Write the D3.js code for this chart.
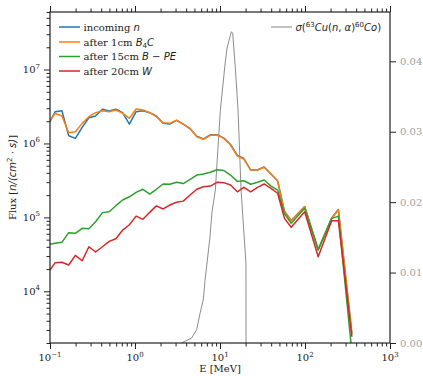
<!DOCTYPE html>
<html>
<head>
<meta charset="utf-8">
<script src="https://cdn.jsdelivr.net/npm/d3@7"></script>
<style>
  body { margin: 0; background: #fff; }
  text { font-family: "DejaVu Serif", serif; }
  .m { font-family: "DejaVu Sans", sans-serif; font-style: italic; }
  .mu { font-family: "DejaVu Sans", sans-serif; font-style: normal; }
</style>
</head>
<body>
<svg id="chart" width="423" height="376"></svg>
<script>
// energy grid [MeV]
const energy = [0.1, 0.115, 0.138, 0.166, 0.199, 0.239, 0.287, 0.344, 0.414, 0.497,
  0.596, 0.716, 0.859, 1.03, 1.24, 1.49, 1.78, 2.14, 2.57, 3.08,
  3.70, 4.45, 5.33, 6.40, 7.69, 9.23, 11.1, 13.3, 16.0, 19.1,
  23.0, 27.6, 33.1, 39.8, 47.7, 57.3, 68.8, 99.1, 143, 206, 247, 356];

const incoming = [1.97e6, 2.69e6, 2.77e6, 1.27e6, 1.17e6, 1.65e6, 2.23e6, 2.35e6, 2.90e6, 2.75e6,
  2.90e6, 2.61e6, 1.83e6, 2.69e6, 2.77e6, 2.61e6, 2.35e6, 1.87e6, 1.83e6, 2.05e6,
  1.83e6, 1.58e6, 1.25e6, 1.15e6, 1.31e6, 1.31e6, 1.18e6, 9.68e5, 6.87e5, 6.25e5,
  4.37e5, 4.37e5, 4.80e5, 3.86e5, 3.10e5, 1.21e5, 9.10e4, 1.40e5, 3.70e4, 9.80e4, 1.28e5, 2.64e3];

const afterB4C = [2.03e6, 2.56e6, 2.35e6, 1.40e6, 1.44e6, 1.87e6, 2.30e6, 2.61e6, 2.77e6, 2.69e6,
  2.83e6, 2.56e6, 2.19e6, 2.92e6, 2.83e6, 2.61e6, 2.30e6, 1.91e6, 1.87e6, 2.07e6,
  1.83e6, 1.60e6, 1.23e6, 1.14e6, 1.29e6, 1.30e6, 1.17e6, 9.52e5, 6.76e5, 6.15e5,
  4.37e5, 4.37e5, 4.76e5, 3.86e5, 3.10e5, 1.19e5, 9.02e4, 1.39e5, 3.62e4, 9.71e4, 1.26e5, 2.73e3];

const afterBPE = [4.32e4, 4.46e4, 4.60e4, 6.21e4, 6.08e4, 7.11e4, 7.02e4, 8.74e4, 1.16e5, 1.19e5,
  1.44e5, 1.72e5, 1.90e5, 2.18e5, 2.40e5, 2.07e5, 2.40e5, 2.83e5, 2.81e5, 2.98e5,
  2.87e5, 3.27e5, 3.74e5, 3.86e5, 4.07e5, 4.41e5, 4.30e5, 3.74e5, 3.07e5, 3.13e5,
  2.81e5, 2.98e5, 3.20e5, 2.65e5, 2.34e5, 1.13e5, 8.31e4, 1.33e5, 3.62e4, 9.71e4, 1.04e5, 1.5e3];

const afterW = [1.94e4, 2.44e4, 2.47e4, 2.27e4, 3.07e4, 2.59e4, 4.01e4, 3.40e4, 4.01e4, 4.74e4,
  5.14e4, 6.74e4, 7.96e4, 1.04e5, 9.41e4, 1.17e5, 1.43e5, 1.30e5, 1.47e5, 1.60e5,
  1.66e5, 2.01e5, 2.40e5, 2.60e5, 2.65e5, 2.98e5, 2.95e5, 2.74e5, 2.22e5, 2.55e5,
  2.22e5, 2.55e5, 2.83e5, 2.47e5, 2.12e5, 9.71e4, 7.34e4, 1.19e5, 2.94e4, 9.02e4, 9.02e4, 2.43e3];

// 63Cu(n,a)60Co cross section (right axis)
const sigmaE = [3.5, 4.64, 5.32, 5.82, 6.37, 6.67, 7.63, 8.05, 8.81, 10.1,
  11.4, 12.1, 13.6, 14.1, 15.1, 16.3, 17.7, 20.2, 20.25];
const sigmaVal = [0, 0.0007, 0.0019, 0.0042, 0.0062, 0.0089, 0.0151, 0.0186, 0.0217, 0.0331,
  0.0393, 0.0419, 0.0442, 0.0440, 0.0393, 0.0331, 0.0217, 0.0113, 0];

const xMajor = [0.1, 1, 10, 100, 1000];
const xMajorExp = ["\u22121", "0", "1", "2", "3"];
const yMajor = [1e4, 1e5, 1e6, 1e7];
const yMajorExp = ["4", "5", "6", "7"];
const yRightTicks = [0, 0.01, 0.02, 0.03, 0.04];

const series = [
  {name: "incoming", vals: incoming, color: "#1f77b4"},
  {name: "B4C", vals: afterB4C, color: "#ff7f0e"},
  {name: "BPE", vals: afterBPE, color: "#2ca02c"},
  {name: "W", vals: afterW, color: "#d62728"}
];

const plot = {left: 50, right: 390, top: 12, bottom: 343};

const x = d3.scaleLog().domain([0.1, 1000]).range([plot.left, plot.right]);
const y = d3.scaleLog().domain([2000, 6e7]).range([plot.bottom, plot.top]);
const yR = d3.scaleLinear().domain([0, 0.047]).range([plot.bottom, plot.top]);

const svg = d3.select("#chart");

svg.append("defs").append("clipPath").attr("id", "clip")
  .append("rect").attr("x", plot.left).attr("y", plot.top)
  .attr("width", plot.right - plot.left).attr("height", plot.bottom - plot.top);

const tickCol = "#222";

// minor tick positions straight from the log scales
const xMinor = x.ticks().filter(v => !xMajor.some(m => Math.abs(m - v) / m < 1e-6));
const yMinor = y.ticks().filter(v => !yMajor.some(m => Math.abs(m - v) / m < 1e-6));

function styleAxis(g) {
  g.select(".domain").remove();
  g.selectAll("line").attr("stroke", tickCol).attr("stroke-width", 1);
}

// bottom + top
svg.append("g").attr("transform", "translate(0," + plot.bottom + ")")
  .call(d3.axisBottom(x).tickValues(xMajor).tickSize(6).tickFormat("")).call(styleAxis);
svg.append("g").attr("transform", "translate(0," + plot.bottom + ")")
  .call(d3.axisBottom(x).tickValues(xMinor).tickSize(3.5).tickFormat("")).call(styleAxis);
svg.append("g").attr("transform", "translate(0," + plot.top + ")")
  .call(d3.axisTop(x).tickValues(xMajor).tickSize(6).tickFormat("")).call(styleAxis);
svg.append("g").attr("transform", "translate(0," + plot.top + ")")
  .call(d3.axisTop(x).tickValues(xMinor).tickSize(3.5).tickFormat("")).call(styleAxis);

// left
svg.append("g").attr("transform", "translate(" + plot.left + ",0)")
  .call(d3.axisLeft(y).tickValues(yMajor).tickSize(6).tickFormat("")).call(styleAxis);
svg.append("g").attr("transform", "translate(" + plot.left + ",0)")
  .call(d3.axisLeft(y).tickValues(yMinor).tickSize(3.5).tickFormat("")).call(styleAxis);

// right
svg.append("g").attr("transform", "translate(" + plot.right + ",0)")
  .call(d3.axisRight(yR).tickValues(yRightTicks).tickSize(6).tickFormat("")).call(styleAxis);

// tick labels
xMajor.forEach((v, i) => {
  let t = svg.append("text").attr("x", x(v)).attr("y", 361)
    .attr("text-anchor", "middle").attr("font-size", 10).attr("fill", tickCol);
  t.append("tspan").text("10");
  t.append("tspan").attr("dy", -4.5).attr("font-size", 7).text(xMajorExp[i]);
});

yMajor.forEach((v, i) => {
  let t = svg.append("text").attr("x", 40).attr("y", y(v) + 3.5)
    .attr("text-anchor", "end").attr("font-size", 10).attr("fill", tickCol);
  t.append("tspan").text("10");
  t.append("tspan").attr("dy", -4.5).attr("font-size", 7).text(yMajorExp[i]);
});

yRightTicks.forEach(v => {
  svg.append("text").attr("x", 400).attr("y", yR(v) + 3.5)
    .attr("font-size", 10).attr("fill", "#a0a0a0").text(v.toFixed(2));
});

// axis labels
svg.append("text").attr("x", (plot.left + plot.right) / 2).attr("y", 372)
  .attr("text-anchor", "middle").attr("font-size", 10).attr("fill", tickCol).text("E [MeV]");

let yl = svg.append("text").attr("transform", "translate(16," + ((plot.top + plot.bottom) / 2) + ") rotate(-90)")
  .attr("text-anchor", "middle").attr("font-size", 10).attr("fill", tickCol);
yl.append("tspan").text("Flux [");
yl.append("tspan").attr("class", "m").text("n/(cm");
yl.append("tspan").attr("class", "mu").attr("dy", -4).attr("font-size", 7).text("2");
yl.append("tspan").attr("class", "mu").attr("dy", 4).text(" \u00b7 ");
yl.append("tspan").attr("class", "m").text("s)");
yl.append("tspan").text("]");

// cross section curve
const lineR = d3.line().x((d, i) => x(sigmaE[i])).y(d => yR(d));
svg.append("path").datum(sigmaVal)
  .attr("clip-path", "url(#clip)")
  .attr("fill", "none").attr("stroke", "#8c8c8c").attr("stroke-width", 1)
  .attr("d", lineR);

// flux curves
const line = d3.line().x((d, i) => x(energy[i])).y(d => y(d));
series.forEach(s => {
  svg.append("path").datum(s.vals)
    .attr("clip-path", "url(#clip)")
    .attr("fill", "none").attr("stroke", s.color).attr("stroke-width", 1.5)
    .attr("stroke-linejoin", "round")
    .attr("d", line);
});

// frame
svg.append("rect").attr("x", plot.left).attr("y", plot.top)
  .attr("width", plot.right - plot.left).attr("height", plot.bottom - plot.top)
  .attr("fill", "none").attr("stroke", tickCol).attr("stroke-width", 1.2);

// legend (left)
const legRows = [27, 42, 56.5, 71];
const leg = svg.append("g");
series.forEach((s, i) => {
  leg.append("line").attr("x1", 59).attr("x2", 80).attr("y1", legRows[i]).attr("y2", legRows[i])
    .attr("stroke", s.color).attr("stroke-width", 1.5);
});
function legText(i) {
  return leg.append("text").attr("x", 83.5).attr("y", legRows[i] + 3.5)
    .attr("font-size", 10).attr("fill", tickCol);
}
let l0 = legText(0);
l0.append("tspan").text("incoming ");
l0.append("tspan").attr("class", "m").text("n");
let l1 = legText(1);
l1.append("tspan").text("after 1cm ");
l1.append("tspan").attr("class", "m").text("B");
l1.append("tspan").attr("class", "mu").attr("dy", 2).attr("font-size", 7).text("4");
l1.append("tspan").attr("class", "m").attr("dy", -2).text("C");
let l2 = legText(2);
l2.append("tspan").text("after 15cm ");
l2.append("tspan").attr("class", "m").text("B");
l2.append("tspan").attr("class", "mu").text(" \u2212 ");
l2.append("tspan").attr("class", "m").text("PE");
let l3 = legText(3);
l3.append("tspan").text("after 20cm ");
l3.append("tspan").attr("class", "m").text("W");

// legend (right)
leg.append("line").attr("x1", 271).attr("x2", 292).attr("y1", 27).attr("y2", 27)
  .attr("stroke", "#9a9a9a").attr("stroke-width", 1.2);
let lr = leg.append("text").attr("x", 295.5).attr("y", 30.5)
  .attr("font-size", 10).attr("fill", tickCol);
lr.append("tspan").attr("class", "m").text("\u03c3");
lr.append("tspan").attr("class", "mu").text("(");
lr.append("tspan").attr("class", "mu").attr("dy", -4).attr("font-size", 7).text("63");
lr.append("tspan").attr("class", "m").attr("dy", 4).text("Cu");
lr.append("tspan").attr("class", "mu").text("(");
lr.append("tspan").attr("class", "m").text("n");
lr.append("tspan").attr("class", "mu").text(", ");
lr.append("tspan").attr("class", "m").text("\u03b1");
lr.append("tspan").attr("class", "mu").text(")");
lr.append("tspan").attr("class", "mu").attr("dy", -4).attr("font-size", 7).text("60");
lr.append("tspan").attr("class", "m").attr("dy", 4).text("Co");
lr.append("tspan").attr("class", "mu").text(")");
</script>
</body>
</html>
